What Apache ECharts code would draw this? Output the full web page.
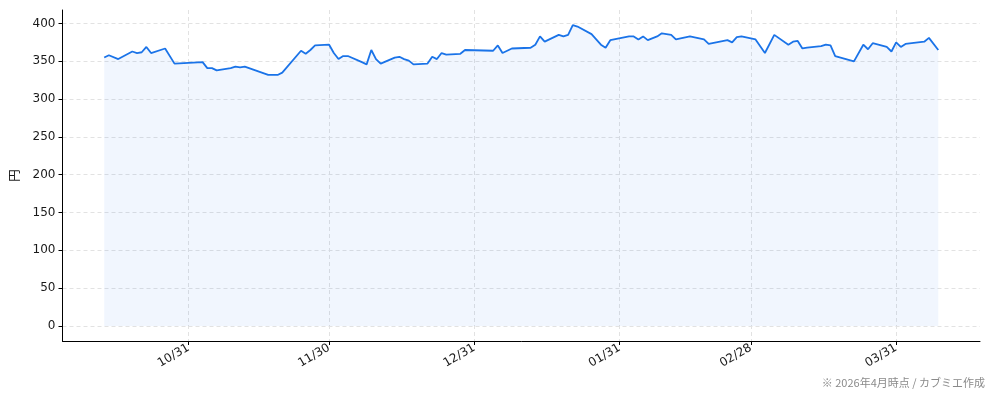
<!DOCTYPE html>
<html>
<head>
<meta charset="utf-8">
<script src="https://cdn.jsdelivr.net/npm/echarts@6/dist/echarts.min.js"></script>
<style>
html,body{margin:0;padding:0;background:#fff;}
#chart{width:994px;height:401px;}
</style>
</head>
<body>
<div id="chart"></div>
<script>
const dates = [
'2025-10-13','2025-10-14','2025-10-16','2025-10-19','2025-10-20','2025-10-21','2025-10-22','2025-10-23','2025-10-26','2025-10-28',
'2025-11-03','2025-11-04','2025-11-05','2025-11-06','2025-11-09','2025-11-10','2025-11-11','2025-11-12','2025-11-17','2025-11-19',
'2025-11-20','2025-11-24','2025-11-25','2025-11-26','2025-11-27','2025-11-30','2025-12-01','2025-12-02','2025-12-03','2025-12-04',
'2025-12-07','2025-12-08','2025-12-09','2025-12-10','2025-12-11','2025-12-14','2025-12-15','2025-12-16','2025-12-17','2025-12-18',
'2025-12-21','2025-12-22','2025-12-23','2025-12-24','2025-12-25','2025-12-28','2025-12-29','2026-01-04','2026-01-05','2026-01-06',
'2026-01-08','2026-01-12','2026-01-13','2026-01-14','2026-01-15','2026-01-18','2026-01-19','2026-01-20','2026-01-21','2026-01-22',
'2026-01-25','2026-01-27','2026-01-28','2026-01-29','2026-02-02','2026-02-03','2026-02-04','2026-02-05','2026-02-06','2026-02-08',
'2026-02-09','2026-02-11','2026-02-12','2026-02-15','2026-02-18','2026-02-19','2026-02-23','2026-02-24','2026-02-25','2026-02-26',
'2026-03-01','2026-03-03','2026-03-05','2026-03-08','2026-03-09','2026-03-10','2026-03-11','2026-03-12','2026-03-15','2026-03-16',
'2026-03-17','2026-03-18','2026-03-22','2026-03-24','2026-03-25','2026-03-26','2026-03-29','2026-03-30','2026-03-31','2026-04-01',
'2026-04-02','2026-04-06','2026-04-07','2026-04-09'
];
const prices = [
355,358,353,363,361,362,369,361,367,347,
349,341,341,338,341,343,342,343,332,332,
335,364,360,365,371,372,361,353,357,357,
349,346,365,353,347,355,356,353,351,346,
347,356,353,361,359,360,365,364,371,361,
367,368,372,383,376,385,383,385,398,396,
386,372,368,378,383,383,379,383,378,383,
387,385,379,383,379,373,378,375,382,383,
379,361,385,372,376,377,367,368,370,372,
371,357,350,372,366,374,369,363,375,369,
373,376,381,365
];
const xTickDates = ['2025-10-31','2025-11-30','2025-12-31','2026-01-31','2026-02-28','2026-03-31'];
const yTicks = [0,50,100,150,200,250,300,350,400];
const yName = '円';
const caption = '※ 2026年4月時点 / カブミエ作成';

function ts(s){ const p = s.split('-').map(Number); return Date.UTC(p[0], p[1]-1, p[2]); }
const firstT = ts(dates[0]), lastT = ts(dates[dates.length-1]);
const span = lastT - firstT;
const xMin = firstT - span*0.05, xMax = lastT + span*0.05;
const yMaxData = Math.max.apply(null, prices);
const yMin = -yMaxData*0.05, yMax = yMaxData*1.05;

const font = '"Noto Sans CJK JP", "Noto Sans", sans-serif';
const numFont = '"DejaVu Sans", "Noto Sans CJK JP", sans-serif';
const chart = echarts.init(document.getElementById('chart'), null, {renderer:'canvas'});
chart.setOption({
  animation:false,
  backgroundColor:'#fff',
  grid:{left:62,right:14,top:10,bottom:60,containLabel:false},
  xAxis:{
    type:'value', min:xMin, max:xMax, scale:true,
    axisLine:{show:true,onZero:false,lineStyle:{color:'#000',width:1}},
    axisTick:{show:true,length:4,lineStyle:{color:'#000'},customValues:xTickDates.map(ts)},
    axisLabel:{
      customValues:xTickDates.map(ts), rotate:30, color:'#1a1a1a', fontSize:12, fontFamily:numFont, margin:6,
      formatter:function(v){ const d=new Date(v); const m=d.getUTCMonth()+1, dd=d.getUTCDate(); return (m<10?'0'+m:m)+'/'+(dd<10?'0'+dd:dd); }
    },
    splitLine:{show:true,lineStyle:{color:'#e2e2e2',type:[4,3],width:1}}
  },
  yAxis:{
    type:'value', min:yMin, max:yMax,
    name:yName, nameLocation:'middle', nameRotate:90, nameGap:42,
    nameTextStyle:{color:'#1a1a1a',fontSize:12.5,fontFamily:font},
    axisLine:{show:true,onZero:false,lineStyle:{color:'#000',width:1}},
    axisTick:{show:true,length:4,lineStyle:{color:'#000'},customValues:yTicks},
    axisLabel:{customValues:yTicks,color:'#1a1a1a',fontSize:12,fontFamily:numFont,margin:7},
    splitLine:{show:true,lineStyle:{color:'#e2e2e2',type:[4,3],width:1}}
  },
  series:[{
    type:'line',
    data:dates.map(function(d,i){return [ts(d), prices[i]];}),
    showSymbol:false, symbol:'none',
    lineStyle:{color:'#1a73e8',width:1.8},
    areaStyle:{color:'rgba(26,115,232,0.09)', origin:0},
    z:3
  }],
  graphic:[{
    type:'text', right:9, top:377,
    style:{text:caption, fill:'#8a8a8a', font:'11px '+font}
  }]
});
</script>
</body>
</html>
